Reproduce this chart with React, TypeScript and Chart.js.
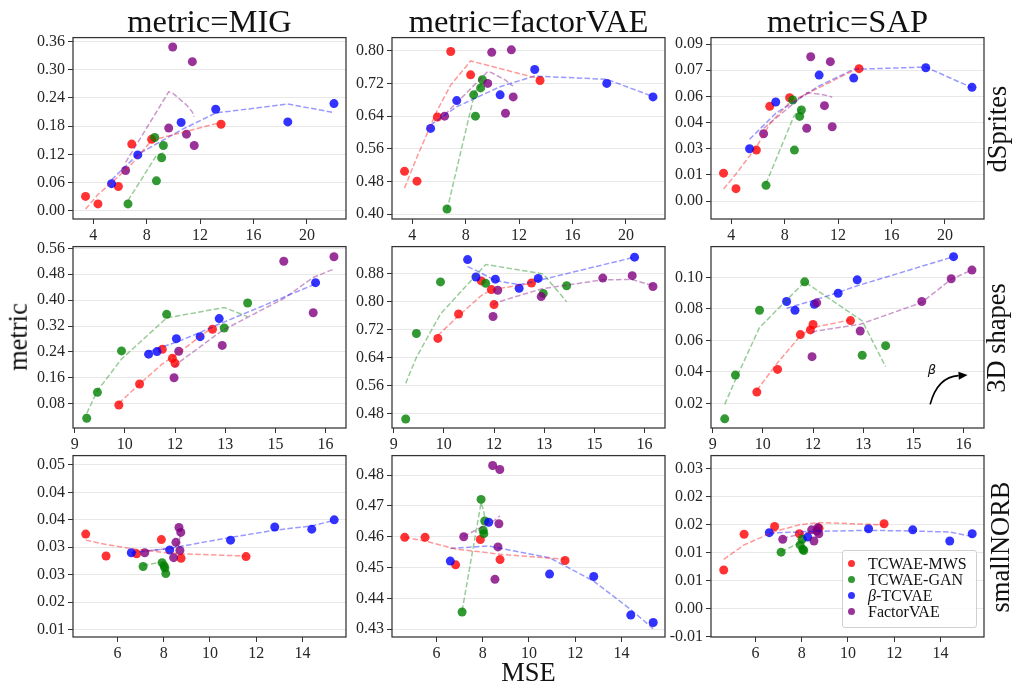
import React, { useEffect, useRef } from "react";
import { Chart, registerables } from "chart.js";

Chart.register(...registerables);

// ---------------- data ----------------
const SERIES_NAMES = ["TCWAE-MWS", "TCWAE-GAN", "β-TCVAE", "FactorVAE"];
const METRIC_NAMES = ["MIG", "factorVAE", "SAP"];
const DATASET_NAMES = ["dSprites", "3D shapes", "smallNORB"];

// dSprites: MSE per model
const DSPRITES_MSE_MWS = [3.42, 4.35, 5.88, 6.88, 8.37, 13.57];
const DSPRITES_MSE_GAN = [6.6, 8.6, 8.73, 9.12, 9.25];
const DSPRITES_MSE_TCVAE = [5.37, 7.33, 10.58, 13.17, 18.57, 22.03];
const DSPRITES_MSE_FVAE = [6.42, 9.65, 9.95, 10.98, 11.42, 11.56];
// dSprites MIG
const DSPRITES_MIG_MWS = [0.031, 0.015, 0.052, 0.142, 0.152, 0.184];
const DSPRITES_MIG_GAN = [0.015, 0.156, 0.064, 0.113, 0.139];
const DSPRITES_MIG_TCVAE = [0.058, 0.119, 0.188, 0.216, 0.189, 0.228];
const DSPRITES_MIG_FVAE = [0.086, 0.176, 0.348, 0.163, 0.317, 0.139];
const DSPRITES_MIG_MWS_FIT = [0.004, 0.035, 0.073, 0.1, 0.15, 0.188];
const DSPRITES_MIG_GAN_FIT = [0.022, 0.112, 0.118, 0.122, 0.123];
const DSPRITES_MIG_TCVAE_FIT = [0.066, 0.12, 0.172, 0.208, 0.227, 0.209];
const DSPRITES_MIG_FVAE_FIT = [0.103, 0.253, 0.25, 0.225, 0.21, 0.2];
// dSprites factorVAE
const DSPRITES_FVM_MWS = [0.505, 0.481, 0.638, 0.798, 0.741, 0.727];
const DSPRITES_FVM_GAN = [0.413, 0.692, 0.64, 0.709, 0.729];
const DSPRITES_FVM_TCVAE = [0.61, 0.678, 0.692, 0.754, 0.72, 0.687];
const DSPRITES_FVM_FVAE = [0.64, 0.72, 0.796, 0.647, 0.802, 0.687];
const DSPRITES_FVM_MWS_FIT = [0.464, 0.54, 0.655, 0.716, 0.775, 0.731];
const DSPRITES_FVM_GAN_FIT = [0.41, 0.687, 0.7, 0.716, 0.728];
const DSPRITES_FVM_TCVAE_FIT = [0.618, 0.663, 0.712, 0.738, 0.73, 0.688];
const DSPRITES_FVM_FVAE_FIT = [0.643, 0.749, 0.746, 0.728, 0.716, 0.714];
// dSprites SAP
const DSPRITES_SAP_MWS = [0.016, 0.0071, 0.0292, 0.0543, 0.0592, 0.0759];
const DSPRITES_SAP_GAN = [0.009, 0.0579, 0.0292, 0.0485, 0.0522];
const DSPRITES_SAP_TCVAE = [0.03, 0.0568, 0.0722, 0.0705, 0.0764, 0.0652];
const DSPRITES_SAP_FVAE = [0.0386, 0.0417, 0.0827, 0.0547, 0.0799, 0.0426];
const DSPRITES_SAP_MWS_FIT = [0.0069, 0.0155, 0.031, 0.0442, 0.0566, 0.0764];
const DSPRITES_SAP_GAN_FIT = [0.01, 0.047, 0.049, 0.052, 0.053];
const DSPRITES_SAP_TCVAE_FIT = [0.0354, 0.0503, 0.066, 0.0755, 0.0768, 0.065];
const DSPRITES_SAP_FVAE_FIT = [0.0417, 0.0621, 0.062, 0.0608, 0.06, 0.0594];

// 3D shapes: MSE per model
const SHAPES_MSE_MWS = [10.32, 10.94, 11.62, 11.92, 12.0, 13.12];
const SHAPES_MSE_GAN = [9.36, 9.68, 10.4, 11.75, 13.47, 14.17];
const SHAPES_MSE_TCVAE = [11.21, 11.46, 12.04, 12.75, 13.32, 16.2];
const SHAPES_MSE_FVAE = [11.97, 12.11, 13.41, 15.25, 16.13, 16.75];
// 3D shapes MIG
const SHAPES_MIG_MWS = [0.076, 0.141, 0.248, 0.22, 0.205, 0.31];
const SHAPES_MIG_GAN = [0.035, 0.115, 0.243, 0.356, 0.314, 0.391];
const SHAPES_MIG_TCVAE = [0.233, 0.241, 0.281, 0.287, 0.343, 0.454];
const SHAPES_MIG_FVAE = [0.16, 0.242, 0.26, 0.52, 0.361, 0.534];
const SHAPES_MIG_MWS_FIT = [0.081, 0.141, 0.203, 0.223, 0.229, 0.316];
const SHAPES_MIG_GAN_FIT = [0.05, 0.12, 0.218, 0.345, 0.377, 0.349];
const SHAPES_MIG_TCVAE_FIT = [0.24, 0.25, 0.27, 0.3, 0.326, 0.45];
const SHAPES_MIG_FVAE_FIT = [0.192, 0.207, 0.306, 0.405, 0.47, 0.496];
// 3D shapes factorVAE
const SHAPES_FVM_MWS = [0.695, 0.765, 0.86, 0.835, 0.792, 0.854];
const SHAPES_FVM_GAN = [0.464, 0.709, 0.857, 0.853, 0.824, 0.846];
const SHAPES_FVM_TCVAE = [0.921, 0.871, 0.865, 0.839, 0.867, 0.928];
const SHAPES_FVM_FVAE = [0.758, 0.833, 0.815, 0.868, 0.875, 0.844];
const SHAPES_FVM_MWS_FIT = [0.703, 0.76, 0.818, 0.834, 0.836, 0.853];
const SHAPES_FVM_GAN_FIT = [0.566, 0.641, 0.765, 0.907, 0.88, 0.8];
const SHAPES_FVM_TCVAE_FIT = [0.901, 0.89, 0.861, 0.849, 0.861, 0.928];
const SHAPES_FVM_FVAE_FIT = [0.791, 0.799, 0.837, 0.863, 0.864, 0.846];
// 3D shapes SAP
const SHAPES_SAP_MWS = [0.0272, 0.0416, 0.0637, 0.0667, 0.0701, 0.0726];
const SHAPES_SAP_GAN = [0.0102, 0.038, 0.0792, 0.0972, 0.0506, 0.0567];
const SHAPES_SAP_TCVAE = [0.0847, 0.0792, 0.083, 0.09, 0.0985, 0.1132];
const SHAPES_SAP_FVAE = [0.0497, 0.0839, 0.066, 0.0847, 0.0992, 0.1047];
const SHAPES_SAP_MWS_FIT = [0.0283, 0.0459, 0.0629, 0.0675, 0.0682, 0.0731];
const SHAPES_SAP_GAN_FIT = [0.0194, 0.035, 0.0682, 0.0972, 0.0724, 0.0433];
const SHAPES_SAP_TCVAE_FIT = [0.0805, 0.082, 0.0856, 0.0905, 0.0947, 0.1132];
const SHAPES_SAP_FVAE_FIT = [0.065, 0.066, 0.0703, 0.0841, 0.0989, 0.1047];

// smallNORB: MSE per model
const NORB_MSE_MWS = [4.63, 5.51, 6.83, 7.9, 8.75, 11.56];
const NORB_MSE_GAN = [7.11, 7.93, 8.02, 8.05, 8.09];
const NORB_MSE_TCVAE = [6.6, 8.26, 10.89, 12.8, 14.4, 15.37];
const NORB_MSE_FVAE = [7.18, 8.43, 8.53, 8.66, 8.7, 8.74];
// smallNORB MIG
const NORB_MIG_MWS = [0.0324, 0.0284, 0.0288, 0.0314, 0.028, 0.0283];
const NORB_MIG_GAN = [0.0265, 0.0272, 0.0266, 0.0262, 0.0252];
const NORB_MIG_TCVAE = [0.029, 0.0295, 0.0313, 0.0337, 0.0333, 0.035];
const NORB_MIG_FVAE = [0.029, 0.0281, 0.0309, 0.0336, 0.0294, 0.0327];
const NORB_MIG_MWS_FIT = [0.0313, 0.0305, 0.0296, 0.0291, 0.0288, 0.0284];
const NORB_MIG_GAN_FIT = [0.0267, 0.0273, 0.0274, 0.0274, 0.0275];
const NORB_MIG_TCVAE_FIT = [0.029, 0.0298, 0.0318, 0.0331, 0.0339, 0.0349];
const NORB_MIG_FVAE_FIT = [0.0293, 0.0298, 0.0302, 0.031, 0.0318, 0.0333];
// smallNORB factorVAE
const NORB_FVM_MWS = [0.4598, 0.4598, 0.4509, 0.4591, 0.4526, 0.4523];
const NORB_FVM_GAN = [0.4356, 0.4721, 0.4621, 0.461, 0.4651];
const NORB_FVM_TCVAE = [0.4521, 0.4647, 0.4479, 0.4471, 0.4346, 0.4322];
const NORB_FVM_FVAE = [0.46, 0.4831, 0.4462, 0.4567, 0.4642, 0.4818];
const NORB_FVM_MWS_FIT = [0.4598, 0.4586, 0.456, 0.4551, 0.4543, 0.4527];
const NORB_FVM_GAN_FIT = [0.436, 0.471, 0.469, 0.468, 0.466];
const NORB_FVM_TCVAE_FIT = [0.4562, 0.457, 0.4532, 0.4456, 0.4364, 0.4302];
const NORB_FVM_FVAE_FIT = [0.4601, 0.465, 0.4655, 0.4662, 0.4665, 0.4668];
// smallNORB SAP
const NORB_SAP_MWS = [0.0069, 0.0133, 0.0147, 0.0134, 0.0144, 0.0152];
const NORB_SAP_GAN = [0.0101, 0.0114, 0.0124, 0.0106, 0.0104];
const NORB_SAP_TCVAE = [0.0136, 0.0128, 0.0143, 0.0141, 0.0121, 0.0134];
const NORB_SAP_FVAE = [0.0124, 0.0141, 0.0121, 0.0139, 0.0145, 0.0134];
const NORB_SAP_MWS_FIT = [0.0088, 0.0114, 0.0138, 0.015, 0.0154, 0.015];
const NORB_SAP_GAN_FIT = [0.0102, 0.0118, 0.012, 0.0121, 0.0122];
const NORB_SAP_TCVAE_FIT = [0.0135, 0.0138, 0.014, 0.0139, 0.0137, 0.0129];
const NORB_SAP_FVAE_FIT = [0.0126, 0.0138, 0.0139, 0.014, 0.0141, 0.0142];

// ticks
const DSPRITES_X_TICKS = [4, 8, 12, 16, 20];
const DSPRITES_X_LABELS = ["4", "8", "12", "16", "20"];
const SHAPES_X_TICKS = [9, 10.5, 12, 13.5, 15, 16.5];
const SHAPES_X_LABELS = ["9", "10", "12", "13", "15", "16"];
const NORB_X_TICKS = [6, 8, 10, 12, 14];
const NORB_X_LABELS = ["6", "8", "10", "12", "14"];

const Y_TICKS_DS_MIG = [0, 0.06, 0.12, 0.18, 0.24, 0.3, 0.36];
const Y_LABELS_DS_MIG = ["0.00", "0.06", "0.12", "0.18", "0.24", "0.30", "0.36"];
const Y_TICKS_DS_FVM = [0.4, 0.48, 0.56, 0.64, 0.72, 0.8];
const Y_LABELS_DS_FVM = ["0.40", "0.48", "0.56", "0.64", "0.72", "0.80"];
const Y_TICKS_DS_SAP = [0, 0.015, 0.03, 0.045, 0.06, 0.075, 0.09];
const Y_LABELS_DS_SAP = ["0.00", "0.01", "0.03", "0.04", "0.06", "0.07", "0.09"];
const Y_TICKS_SH_MIG = [0.08, 0.16, 0.24, 0.32, 0.4, 0.48, 0.56];
const Y_LABELS_SH_MIG = ["0.08", "0.16", "0.24", "0.32", "0.40", "0.48", "0.56"];
const Y_TICKS_SH_FVM = [0.48, 0.56, 0.64, 0.72, 0.8, 0.88];
const Y_LABELS_SH_FVM = ["0.48", "0.56", "0.64", "0.72", "0.80", "0.88"];
const Y_TICKS_SH_SAP = [0.02, 0.04, 0.06, 0.08, 0.1];
const Y_LABELS_SH_SAP = ["0.02", "0.04", "0.06", "0.08", "0.10"];
const Y_TICKS_NO_MIG = [0.015, 0.02, 0.025, 0.03, 0.035, 0.04, 0.045];
const Y_LABELS_NO_MIG = ["0.01", "0.02", "0.03", "0.03", "0.04", "0.04", "0.05"];
const Y_TICKS_NO_FVM = [0.43, 0.44, 0.45, 0.46, 0.47, 0.48];
const Y_LABELS_NO_FVM = ["0.43", "0.44", "0.45", "0.46", "0.47", "0.48"];
const Y_TICKS_NO_SAP = [-0.005, 0, 0.005, 0.01, 0.015, 0.02, 0.025];
const Y_LABELS_NO_SAP = ["-0.01", "0.00", "0.01", "0.01", "0.02", "0.02", "0.03"];

// axis limits
const DSPRITES_X_RANGE = [2.48, 22.93];
const SHAPES_X_RANGE = [8.95, 17.11];
const NORB_X_RANGE = [4.08, 15.88];
const Y_RANGE_DS_MIG = [-0.017, 0.368];
const Y_RANGE_DS_FVM = [0.3885, 0.832];
const Y_RANGE_DS_SAP = [-0.0103, 0.0937];
const Y_RANGE_SH_MIG = [0.0049, 0.5653];
const Y_RANGE_SH_FVM = [0.4381, 0.9583];
const Y_RANGE_SH_SAP = [0.0044, 0.1196];
const Y_RANGE_NO_MIG = [0.01365, 0.0467];
const Y_RANGE_NO_FVM = [0.4275, 0.4863];
const Y_RANGE_NO_SAP = [-0.0051, 0.0274];

// annotation arrow (data coords of 3D shapes / SAP panel)
const ARROW_FROM = [15.5, 0.0194];
const ARROW_CTRL = [15.72, 0.0368];
const ARROW_TO = [16.62, 0.038];

// ---------------- styles / layout ----------------
const POINT_COLORS = ["rgba(255,0,0,0.8)", "rgba(0,128,0,0.8)", "rgba(0,0,255,0.8)", "rgba(128,0,128,0.8)"];
const FIT_COLORS = ["rgba(255,0,0,0.4)", "rgba(0,128,0,0.4)", "rgba(0,0,255,0.4)", "rgba(128,0,128,0.4)"];
const SERIF = "'Liberation Serif', 'Times New Roman', serif";
const COL_LEFT = [73, 392, 711];
const ROW_TOP = [37, 246, 455];
const PLOT_W = 273;
const PLOT_H = 182;
const YW = 60;
const XH = 32;
const PT = 12;
const PR = 14;

type PanelCfg = {
  row: number;
  col: number;
  xs: number[][];
  ys: number[][];
  fits: number[][];
  xRange: number[];
  xTicks: number[];
  xLabels: string[];
  yRange: number[];
  yTicks: number[];
  yLabels: string[];
  arrow?: boolean;
};

const DS_X = [DSPRITES_MSE_MWS, DSPRITES_MSE_GAN, DSPRITES_MSE_TCVAE, DSPRITES_MSE_FVAE];
const SH_X = [SHAPES_MSE_MWS, SHAPES_MSE_GAN, SHAPES_MSE_TCVAE, SHAPES_MSE_FVAE];
const NO_X = [NORB_MSE_MWS, NORB_MSE_GAN, NORB_MSE_TCVAE, NORB_MSE_FVAE];

const PANELS: PanelCfg[] = [
  { row: 0, col: 0, xs: DS_X, ys: [DSPRITES_MIG_MWS, DSPRITES_MIG_GAN, DSPRITES_MIG_TCVAE, DSPRITES_MIG_FVAE], fits: [DSPRITES_MIG_MWS_FIT, DSPRITES_MIG_GAN_FIT, DSPRITES_MIG_TCVAE_FIT, DSPRITES_MIG_FVAE_FIT], xRange: DSPRITES_X_RANGE, xTicks: DSPRITES_X_TICKS, xLabels: DSPRITES_X_LABELS, yRange: Y_RANGE_DS_MIG, yTicks: Y_TICKS_DS_MIG, yLabels: Y_LABELS_DS_MIG },
  { row: 0, col: 1, xs: DS_X, ys: [DSPRITES_FVM_MWS, DSPRITES_FVM_GAN, DSPRITES_FVM_TCVAE, DSPRITES_FVM_FVAE], fits: [DSPRITES_FVM_MWS_FIT, DSPRITES_FVM_GAN_FIT, DSPRITES_FVM_TCVAE_FIT, DSPRITES_FVM_FVAE_FIT], xRange: DSPRITES_X_RANGE, xTicks: DSPRITES_X_TICKS, xLabels: DSPRITES_X_LABELS, yRange: Y_RANGE_DS_FVM, yTicks: Y_TICKS_DS_FVM, yLabels: Y_LABELS_DS_FVM },
  { row: 0, col: 2, xs: DS_X, ys: [DSPRITES_SAP_MWS, DSPRITES_SAP_GAN, DSPRITES_SAP_TCVAE, DSPRITES_SAP_FVAE], fits: [DSPRITES_SAP_MWS_FIT, DSPRITES_SAP_GAN_FIT, DSPRITES_SAP_TCVAE_FIT, DSPRITES_SAP_FVAE_FIT], xRange: DSPRITES_X_RANGE, xTicks: DSPRITES_X_TICKS, xLabels: DSPRITES_X_LABELS, yRange: Y_RANGE_DS_SAP, yTicks: Y_TICKS_DS_SAP, yLabels: Y_LABELS_DS_SAP },
  { row: 1, col: 0, xs: SH_X, ys: [SHAPES_MIG_MWS, SHAPES_MIG_GAN, SHAPES_MIG_TCVAE, SHAPES_MIG_FVAE], fits: [SHAPES_MIG_MWS_FIT, SHAPES_MIG_GAN_FIT, SHAPES_MIG_TCVAE_FIT, SHAPES_MIG_FVAE_FIT], xRange: SHAPES_X_RANGE, xTicks: SHAPES_X_TICKS, xLabels: SHAPES_X_LABELS, yRange: Y_RANGE_SH_MIG, yTicks: Y_TICKS_SH_MIG, yLabels: Y_LABELS_SH_MIG },
  { row: 1, col: 1, xs: SH_X, ys: [SHAPES_FVM_MWS, SHAPES_FVM_GAN, SHAPES_FVM_TCVAE, SHAPES_FVM_FVAE], fits: [SHAPES_FVM_MWS_FIT, SHAPES_FVM_GAN_FIT, SHAPES_FVM_TCVAE_FIT, SHAPES_FVM_FVAE_FIT], xRange: SHAPES_X_RANGE, xTicks: SHAPES_X_TICKS, xLabels: SHAPES_X_LABELS, yRange: Y_RANGE_SH_FVM, yTicks: Y_TICKS_SH_FVM, yLabels: Y_LABELS_SH_FVM },
  { row: 1, col: 2, xs: SH_X, ys: [SHAPES_SAP_MWS, SHAPES_SAP_GAN, SHAPES_SAP_TCVAE, SHAPES_SAP_FVAE], fits: [SHAPES_SAP_MWS_FIT, SHAPES_SAP_GAN_FIT, SHAPES_SAP_TCVAE_FIT, SHAPES_SAP_FVAE_FIT], xRange: SHAPES_X_RANGE, xTicks: SHAPES_X_TICKS, xLabels: SHAPES_X_LABELS, yRange: Y_RANGE_SH_SAP, yTicks: Y_TICKS_SH_SAP, yLabels: Y_LABELS_SH_SAP, arrow: true },
  { row: 2, col: 0, xs: NO_X, ys: [NORB_MIG_MWS, NORB_MIG_GAN, NORB_MIG_TCVAE, NORB_MIG_FVAE], fits: [NORB_MIG_MWS_FIT, NORB_MIG_GAN_FIT, NORB_MIG_TCVAE_FIT, NORB_MIG_FVAE_FIT], xRange: NORB_X_RANGE, xTicks: NORB_X_TICKS, xLabels: NORB_X_LABELS, yRange: Y_RANGE_NO_MIG, yTicks: Y_TICKS_NO_MIG, yLabels: Y_LABELS_NO_MIG },
  { row: 2, col: 1, xs: NO_X, ys: [NORB_FVM_MWS, NORB_FVM_GAN, NORB_FVM_TCVAE, NORB_FVM_FVAE], fits: [NORB_FVM_MWS_FIT, NORB_FVM_GAN_FIT, NORB_FVM_TCVAE_FIT, NORB_FVM_FVAE_FIT], xRange: NORB_X_RANGE, xTicks: NORB_X_TICKS, xLabels: NORB_X_LABELS, yRange: Y_RANGE_NO_FVM, yTicks: Y_TICKS_NO_FVM, yLabels: Y_LABELS_NO_FVM },
  { row: 2, col: 2, xs: NO_X, ys: [NORB_SAP_MWS, NORB_SAP_GAN, NORB_SAP_TCVAE, NORB_SAP_FVAE], fits: [NORB_SAP_MWS_FIT, NORB_SAP_GAN_FIT, NORB_SAP_TCVAE_FIT, NORB_SAP_FVAE_FIT], xRange: NORB_X_RANGE, xTicks: NORB_X_TICKS, xLabels: NORB_X_LABELS, yRange: Y_RANGE_NO_SAP, yTicks: Y_TICKS_NO_SAP, yLabels: Y_LABELS_NO_SAP },
];

const framePlugin = {
  id: "frameBox",
  afterDraw(chart: any) {
    const { ctx, chartArea: a } = chart;
    ctx.save();
    ctx.strokeStyle = "#333333";
    ctx.lineWidth = 1.25;
    ctx.strokeRect(a.left, a.top, a.right - a.left, a.bottom - a.top);
    ctx.restore();
  },
};

const arrowPlugin = {
  id: "betaArrow",
  afterDatasetsDraw(chart: any) {
    const xs = chart.scales.x;
    const ys = chart.scales.y;
    const p0 = [xs.getPixelForValue(ARROW_FROM[0]), ys.getPixelForValue(ARROW_FROM[1])];
    const pc = [xs.getPixelForValue(ARROW_CTRL[0]), ys.getPixelForValue(ARROW_CTRL[1])];
    const p1 = [xs.getPixelForValue(ARROW_TO[0]), ys.getPixelForValue(ARROW_TO[1])];
    const ctx = chart.ctx;
    const ang = Math.atan2(p1[1] - pc[1], p1[0] - pc[0]);
    const hl = 9;
    const hw = 4;
    const bx = p1[0] - hl * Math.cos(ang);
    const by = p1[1] - hl * Math.sin(ang);
    ctx.save();
    ctx.strokeStyle = "#000";
    ctx.lineWidth = 1.6;
    ctx.beginPath();
    ctx.moveTo(p0[0], p0[1]);
    ctx.quadraticCurveTo(pc[0], pc[1], bx, by);
    ctx.stroke();
    ctx.fillStyle = "#000";
    ctx.beginPath();
    ctx.moveTo(p1[0], p1[1]);
    ctx.lineTo(bx + hw * Math.sin(ang), by - hw * Math.cos(ang));
    ctx.lineTo(bx - hw * Math.sin(ang), by + hw * Math.cos(ang));
    ctx.closePath();
    ctx.fill();
    ctx.restore();
  },
};

function Panel({ p }: { p: PanelCfg }) {
  const ref = useRef<HTMLCanvasElement>(null);
  useEffect(() => {
    if (!ref.current) return;
    const datasets: any[] = [];
    for (let s = 0; s < 4; s++) {
      datasets.push({
        label: SERIES_NAMES[s] + " trend",
        data: p.xs[s].map((x, i) => ({ x, y: p.fits[s][i] })),
        showLine: true,
        pointRadius: 0,
        borderColor: FIT_COLORS[s],
        backgroundColor: FIT_COLORS[s],
        borderWidth: 1.5,
        borderDash: [5.5, 2.4],
        fill: false,
        tension: 0,
        order: 0,
      });
    }
    for (let s = 0; s < 4; s++) {
      datasets.push({
        label: SERIES_NAMES[s],
        data: p.xs[s].map((x, i) => ({ x, y: p.ys[s][i] })),
        showLine: false,
        pointRadius: 4.5,
        pointBorderWidth: 0,
        backgroundColor: POINT_COLORS[s],
        borderColor: POINT_COLORS[s],
        order: 4 - s,
      });
    }
    const tickFont = { family: SERIF, size: 16 };
    const chart = new Chart(ref.current, {
      type: "scatter",
      data: { datasets },
      options: {
        animation: false,
        responsive: false,
        maintainAspectRatio: false,
        events: [],
        layout: { padding: { left: 0, top: PT, right: PR, bottom: 0 } },
        plugins: { legend: { display: false }, tooltip: { enabled: false } },
        scales: {
          x: {
            type: "linear",
            min: p.xRange[0],
            max: p.xRange[1],
            afterBuildTicks: (sc: any) => {
              sc.ticks = p.xTicks.map((v) => ({ value: v }));
            },
            afterFit: (sc: any) => {
              sc.height = XH;
            },
            ticks: {
              autoSkip: false,
              maxRotation: 0,
              padding: 2,
              color: "#262626",
              font: tickFont,
              callback: (_v: any, i: number) => p.xLabels[i],
            },
            grid: { drawOnChartArea: false, drawTicks: true, tickLength: 5, tickColor: "#333333", tickWidth: 1 },
            border: { display: false },
          },
          y: {
            type: "linear",
            min: p.yRange[0],
            max: p.yRange[1],
            afterBuildTicks: (sc: any) => {
              sc.ticks = p.yTicks.map((v) => ({ value: v }));
            },
            afterFit: (sc: any) => {
              sc.width = YW;
            },
            ticks: {
              autoSkip: false,
              padding: 3,
              color: "#262626",
              font: tickFont,
              callback: (_v: any, i: number) => p.yLabels[i],
            },
            grid: { drawOnChartArea: true, color: "#e8e8e8", lineWidth: 1, drawTicks: true, tickLength: 5, tickColor: "#333333", tickWidth: 1 },
            border: { display: false },
          },
        },
      } as any,
      plugins: p.arrow ? [framePlugin, arrowPlugin] : [framePlugin],
    });
    return () => chart.destroy();
  }, [p]);
  const L = COL_LEFT[p.col];
  const T = ROW_TOP[p.row];
  const w = YW + PLOT_W + PR;
  const h = PT + PLOT_H + XH;
  return (
    <canvas
      ref={ref}
      width={w}
      height={h}
      style={{ position: "absolute", left: L - YW, top: T - PT, width: w, height: h }}
    />
  );
}

// text helpers
function HText({ text, cx, baseline, size, italic }: { text: React.ReactNode; cx: number; baseline: number; size: number; italic?: boolean }) {
  return (
    <div
      style={{
        position: "absolute",
        left: cx,
        top: baseline - size * 0.8375,
        transform: "translateX(-50%)",
        fontFamily: SERIF,
        fontSize: size,
        lineHeight: `${size}px`,
        whiteSpace: "nowrap",
        color: "#111",
        fontStyle: italic ? "italic" : "normal",
      }}
    >
      {text}
    </div>
  );
}

function VText({ text, cx, cy, size }: { text: string; cx: number; cy: number; size: number }) {
  return (
    <div
      style={{
        position: "absolute",
        left: cx,
        top: cy,
        transform: "translate(-50%, -50%) rotate(-90deg)",
        fontFamily: SERIF,
        fontSize: size,
        lineHeight: `${size}px`,
        whiteSpace: "nowrap",
        color: "#111",
      }}
    >
      {text}
    </div>
  );
}

const TITLE_BASELINE = 32;
const TITLE_SIZE = 32.5;
const LABEL_SIZE = 26.5;
const ROW_LABEL_X = [997, 996, 1000];

export default function App() {
  return (
    <div style={{ position: "absolute", left: 0, top: 0, width: 1016, height: 689, background: "#fff", overflow: "hidden" }}>
      {PANELS.map((p, i) => (
        <Panel key={i} p={p} />
      ))}
      {METRIC_NAMES.map((m, c) => (
        <HText key={m} text={`metric=${m}`} cx={COL_LEFT[c] + PLOT_W / 2} baseline={TITLE_BASELINE} size={TITLE_SIZE} />
      ))}
      {DATASET_NAMES.map((d, r) => (
        <VText key={d} text={d} cx={ROW_LABEL_X[r]} cy={ROW_TOP[r] + PLOT_H / 2 + 1} size={LABEL_SIZE} />
      ))}
      <VText text="metric" cx={18} cy={ROW_TOP[1] + PLOT_H / 2} size={LABEL_SIZE} />
      <HText text="MSE" cx={COL_LEFT[1] + PLOT_W / 2} baseline={681} size={LABEL_SIZE} />
      <div
        style={{
          position: "absolute",
          left: 932,
          top: 369,
          transform: "translate(-50%, -50%)",
          fontFamily: "'DejaVu Sans', sans-serif",
          fontStyle: "italic",
          fontSize: 13,
          lineHeight: "13px",
          color: "#111",
        }}
      >
        β
      </div>
      <div
        style={{
          position: "absolute",
          left: 842,
          top: 550,
          width: 135,
          height: 78,
          boxSizing: "border-box",
          border: "1px solid #d0d0d0",
          borderRadius: 3,
          background: "rgba(255,255,255,0.85)",
        }}
      >
        {SERIES_NAMES.map((n, i) => (
          <div key={n} style={{ position: "absolute", left: 0, top: 4.5 + i * 16.1, height: 16, width: 133 }}>
            <div
              style={{
                position: "absolute",
                left: 4.5,
                top: 4.5,
                width: 7,
                height: 7,
                borderRadius: "50%",
                background: POINT_COLORS[i],
              }}
            />
            <div
              style={{
                position: "absolute",
                left: 25,
                top: 0,
                fontFamily: SERIF,
                fontSize: 16,
                lineHeight: "16px",
                whiteSpace: "nowrap",
                color: "#111",
              }}
            >
              {n.startsWith("β") ? (
                <>
                  <i>β</i>
                  {n.slice(1)}
                </>
              ) : (
                n
              )}
            </div>
          </div>
        ))}
      </div>
    </div>
  );
}
